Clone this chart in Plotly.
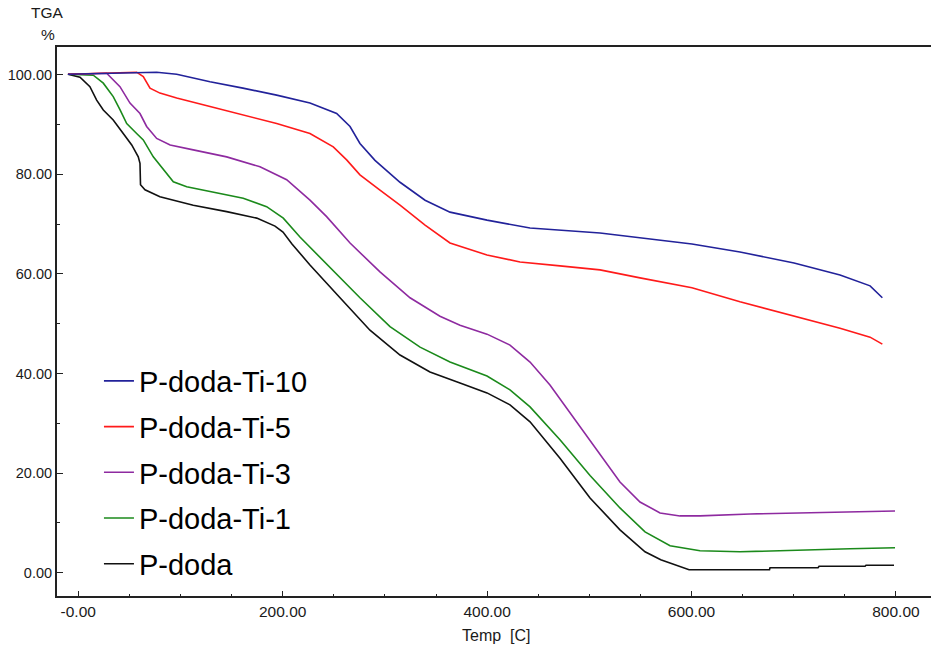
import plotly.graph_objects as go

# Thermogravimetric curves: temperature (C) vs residual mass (%)
temp_doda = [-10.1, 1.7, 11.4, 18.0, 24.5, 34.2, 44.0, 52.3, 58.7, 60.4, 60.9, 65.3, 79.9, 112.5,
             145.2, 174.6, 192.5, 200.3, 209.1, 226.7, 256.1, 285.4, 314.8, 344.1, 373.5, 399.9,
             422.4, 442.0, 471.3, 500.7, 530.0, 554.5, 569.9, 590.5, 597.6, 676.3, 676.8, 723.8,
             724.8, 769.8, 770.7, 798.1]
mass_doda = [100.1, 99.5, 97.6, 94.9, 92.9, 90.9, 88.2, 85.9, 83.5, 82.2, 77.9, 76.9, 75.5, 73.8,
             72.5, 71.2, 69.6, 68.4, 66.0, 61.8, 55.2, 48.7, 43.7, 40.3, 38.1, 36.1,
             33.7, 30.3, 23.0, 15.0, 8.6, 4.2, 2.6, 1.1, 0.6, 0.6, 1.0, 1.0,
             1.3, 1.3, 1.5, 1.5]

temp_ti1 = [-10.1, 14.7, 24.5, 34.2, 40.8, 47.4, 57.1, 63.6, 73.4, 83.2, 93.0, 106.1, 128.9, 161.4,
            184.3, 200.6, 216.9, 246.3, 275.6, 305.0, 334.4, 363.7, 399.9, 422.4, 442.0, 471.3,
            500.7, 530.0, 554.5, 579.0, 608.3, 647.4, 706.2, 755.1, 799.1]
mass_ti1 = [100.1, 99.9, 98.3, 95.6, 93.0, 90.2, 88.2, 86.9, 83.5, 80.9, 78.5, 77.5, 76.5, 75.2,
            73.5, 71.2, 67.4, 61.2, 55.2, 49.4, 45.3, 42.3, 39.5, 36.7, 33.3, 26.7,
            19.5, 13.0, 8.2, 5.4, 4.4, 4.2, 4.6, 4.8, 5.0]

temp_ti3 = [-10.1, 27.8, 40.8, 50.6, 60.4, 66.9, 76.7, 89.9, 112.5, 145.2, 177.8, 203.9, 226.7,
            243.0, 265.9, 295.2, 324.6, 353.9, 373.5, 399.9, 422.4, 442.0, 461.5, 486.0, 510.5,
            530.0, 549.6, 569.2, 588.7, 608.3, 657.3, 706.2, 755.1, 799.1]
mass_ti3 = [100.1, 100.3, 97.6, 94.3, 92.2, 89.6, 87.2, 85.9, 84.9, 83.5, 81.5, 78.9, 74.8,
            71.5, 66.2, 60.4, 55.2, 51.5, 49.7, 47.9, 45.7, 42.3, 37.7, 30.7, 23.6,
            18.2, 14.2, 12.0, 11.4, 11.4, 11.8, 12.0, 12.2, 12.4]

temp_ti5 = [-10.1, 57.1, 63.6, 70.2, 79.9, 96.3, 128.9, 161.4, 194.1, 226.7, 249.5, 262.6, 275.6,
            295.2, 314.8, 339.3, 363.7, 399.9, 432.2, 471.3, 510.5, 549.6, 600.4, 647.4, 700.3,
            745.3, 774.7, 786.7]
mass_ti5 = [100.1, 100.5, 99.6, 97.3, 96.3, 95.3, 93.6, 91.9, 90.2, 88.2, 85.5, 82.9, 79.9,
            76.8, 73.8, 69.8, 66.2, 63.8, 62.4, 61.6, 60.8, 59.2, 57.2, 54.4, 51.5,
            49.1, 47.3, 45.9]

temp_ti10 = [-10.1, 76.7, 96.3, 128.9, 161.1, 194.1, 226.7, 252.8, 265.9, 275.6, 290.3, 314.8,
             339.3, 363.7, 399.9, 442.0, 510.5, 549.6, 600.4, 647.4, 700.3, 745.3, 774.7, 786.7]
mass_ti10 = [100.1, 100.5, 100.1, 98.6, 97.3, 95.9, 94.3, 92.2, 89.6, 86.2, 82.8, 78.4,
             74.8, 72.4, 70.8, 69.2, 68.2, 67.2, 66.0, 64.4, 62.2, 59.8, 57.6, 55.2]

series = [
    ("P-doda", temp_doda, mass_doda, "#111111", 5),
    ("P-doda-Ti-1", temp_ti1, mass_ti1, "#1b8a1b", 4),
    ("P-doda-Ti-3", temp_ti3, mass_ti3, "#8e2aa0", 3),
    ("P-doda-Ti-5", temp_ti5, mass_ti5, "#ff1a1a", 2),
    ("P-doda-Ti-10", temp_ti10, mass_ti10, "#22229a", 1),
]

x_ticks = [0, 200, 400, 600, 800]
x_tick_text = ["-0.00", "200.00", "400.00", "600.00", "800.00"]
y_ticks = [0, 20, 40, 60, 80, 100]
y_tick_text = ["0.00", "20.00", "40.00", "60.00", "80.00", "100.00"]

FONT = "Liberation Sans, Arial, sans-serif"
INK = "#1a1a1a"

fig = go.Figure()
for name, t, m, color, rank in series:
    fig.add_trace(go.Scatter(
        x=t, y=m, mode="lines", name=name,
        line=dict(color=color, width=1.6),
        legendgroup=name, legendrank=rank,
    ))

fig.update_layout(
    width=931, height=655,
    margin=dict(l=57, r=0, t=47, b=59),
    paper_bgcolor="white", plot_bgcolor="white",
    showlegend=True,
    legend=dict(
        x=0.048, y=0.438, xanchor="left", yanchor="top",
        font=dict(family=FONT, size=29, color="#000000"),
        bgcolor="rgba(0,0,0,0)", tracegroupgap=5,
        itemwidth=30,
    ),
    font=dict(family=FONT, color=INK),
)

fig.update_xaxes(
    range=[-20.8, 834.3], showgrid=False, zeroline=False,
    showline=True, linecolor="#222222", linewidth=2, mirror=True,
    tickmode="array", tickvals=x_ticks, ticktext=x_tick_text,
    ticks="inside", ticklen=5, tickwidth=1, tickcolor="#222222",
    minor=dict(dtick=50, tick0=0, ticks="inside", ticklen=2, tickcolor="#222222"),
    tickfont=dict(family=FONT, size=15.5, color=INK),
)
fig.update_yaxes(
    range=[-4.68, 105.56], showgrid=False, zeroline=False,
    showline=True, linecolor="#222222", linewidth=2,
    tickmode="array", tickvals=y_ticks, ticktext=y_tick_text,
    ticks="inside", ticklen=6, tickwidth=1, tickcolor="#222222",
    minor=dict(dtick=10, tick0=0, ticks="inside", ticklen=3, tickcolor="#222222"),
    tickfont=dict(family=FONT, size=14.5, color=INK),
)

fig.add_annotation(text="TGA", xref="paper", yref="paper", x=(47 - 57) / 874, y=1 + (47 - 12) / 549,
                   showarrow=False, font=dict(family=FONT, size=15.5, color=INK),
                   xanchor="center", yanchor="middle")
fig.add_annotation(text="%", xref="paper", yref="paper", x=(48 - 57) / 874, y=1 + (47 - 34) / 549,
                   showarrow=False, font=dict(family=FONT, size=15.5, color=INK),
                   xanchor="center", yanchor="middle")
fig.add_annotation(text="Temp  [C]", xref="paper", yref="paper", x=(496 - 57) / 874, y=-(635 - 596) / 549,
                   showarrow=False, font=dict(family=FONT, size=16, color=INK),
                   xanchor="center", yanchor="middle")

fig.write_html("out.html")
